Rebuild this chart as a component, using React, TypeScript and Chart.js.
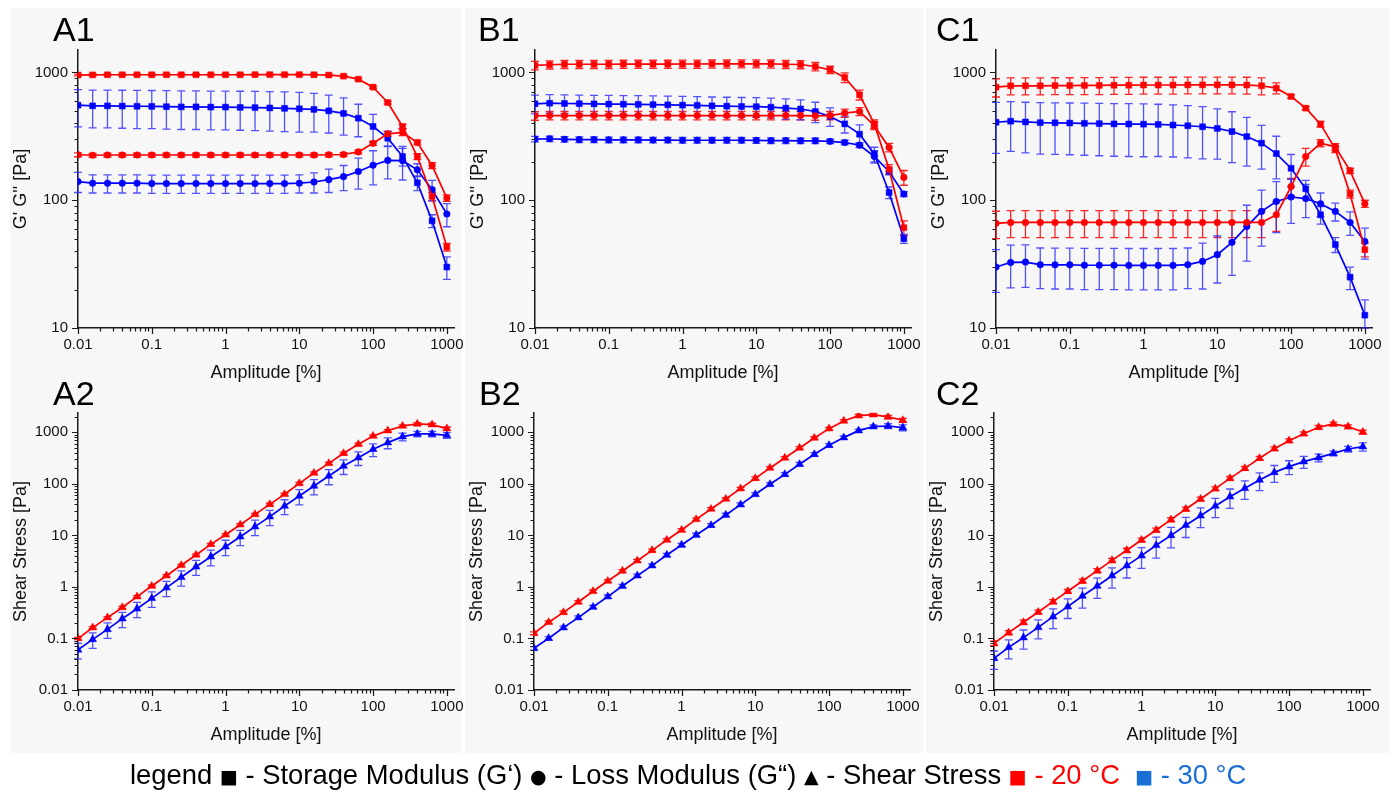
import React, { useEffect, useRef } from "react";
import { Chart, registerables } from "chart.js";

Chart.register(...registerables);

// ---------------- DATA ----------------
const AMPLITUDE = [0.01, 0.0158, 0.0251, 0.0398, 0.0631, 0.1, 0.158, 0.251, 0.398, 0.631, 1, 1.58, 2.51, 3.98, 6.31, 10, 15.8, 25.1, 39.8, 63.1, 100, 158, 251, 398, 631, 1000];
const X_TICK_LABELS = ["0.01", "0.1", "1", "10", "100", "1000"];
const MODULUS_TICK_LABELS = ["10", "100", "1000"];
const STRESS_TICK_LABELS = ["0.01", "0.1", "1", "10", "100", "1000"];

// A1
const A1_G1_20 = [955, 958, 960, 960, 960, 960, 960, 960, 960, 960, 960, 960, 962, 962, 962, 962, 960, 955, 936, 887, 768, 582, 378, 220, 107, 43];
const A1_G1_20_ERR = [15, 15, 15, 15, 15, 15, 15, 15, 15, 15, 15, 15, 15, 15, 15, 15, 15, 15, 15, 15, 15, 15, 15, 12, 8, 3];
const A1_G2_20 = [227, 225, 226, 226, 226, 226, 226, 226, 226, 226, 226, 226, 226, 226, 226, 226, 226, 227, 228, 239, 279, 331, 340, 283, 187, 104];
const A1_G2_20_ERR = [8, 8, 8, 8, 8, 8, 8, 8, 8, 8, 8, 8, 8, 8, 8, 8, 8, 8, 8, 8, 10, 15, 20, 12, 10, 6];
const A1_G1_30 = [555, 548, 548, 546, 544, 543, 540, 538, 538, 536, 536, 533, 531, 528, 524, 520, 514, 501, 478, 439, 378, 306, 220, 137, 69, 30];
const A1_G1_30_ERR = [180, 180, 180, 180, 180, 180, 180, 180, 180, 180, 180, 180, 180, 180, 180, 178, 172, 165, 155, 125, 92, 40, 35, 18, 8, 6];
const A1_G2_30 = [140, 136, 136, 136, 136, 135, 135, 135, 135, 135, 135, 135, 135, 135, 135, 136, 139, 145, 153, 168, 188, 205, 204, 173, 121, 78];
const A1_G2_30_ERR = [25, 22, 22, 22, 22, 22, 22, 22, 22, 22, 22, 22, 22, 22, 22, 22, 25, 30, 34, 46, 56, 58, 60, 20, 22, 16];

// B1
const B1_G1_20 = [1135, 1150, 1160, 1160, 1160, 1160, 1162, 1162, 1162, 1162, 1165, 1165, 1168, 1168, 1170, 1170, 1168, 1160, 1155, 1114, 1049, 914, 669, 396, 175, 61];
const B1_G1_20_ERR = [85, 85, 85, 85, 85, 85, 85, 85, 85, 85, 85, 85, 85, 85, 85, 85, 85, 85, 85, 85, 70, 80, 60, 30, 15, 8];
const B1_G2_20 = [458, 460, 460, 460, 460, 460, 460, 460, 460, 460, 460, 460, 460, 460, 460, 460, 460, 460, 460, 458, 460, 481, 495, 383, 259, 151];
const B1_G2_20_ERR = [35, 35, 35, 35, 35, 35, 35, 35, 35, 35, 35, 35, 35, 35, 35, 35, 35, 35, 35, 35, 35, 35, 35, 25, 20, 20];
const B1_G1_30 = [569, 575, 572, 570, 568, 566, 565, 563, 560, 558, 555, 553, 548, 545, 542, 540, 535, 526, 518, 495, 453, 396, 329, 230, 115, 50];
const B1_G1_30_ERR = [95, 95, 95, 95, 95, 95, 95, 95, 95, 95, 95, 95, 95, 95, 95, 95, 95, 95, 92, 90, 75, 60, 60, 30, 12, 4];
const B1_G2_30 = [301, 303, 300, 298, 298, 297, 297, 297, 296, 296, 295, 295, 295, 295, 295, 294, 293, 293, 292, 292, 289, 283, 270, 220, 168, 112];
const B1_G2_30_ERR = [15, 15, 15, 15, 15, 15, 15, 15, 15, 15, 15, 15, 15, 15, 15, 15, 15, 15, 15, 15, 12, 12, 12, 25, 10, 5];

// C1
const C1_G1_20 = [768, 787, 787, 787, 790, 790, 792, 792, 795, 795, 798, 798, 798, 800, 800, 801, 800, 798, 787, 754, 649, 526, 394, 251, 112, 41];
const C1_G1_20_ERR = [125, 120, 120, 120, 120, 120, 120, 120, 120, 120, 120, 120, 120, 120, 120, 120, 120, 120, 120, 75, 20, 15, 20, 15, 8, 5];
const C1_G2_20 = [66, 67, 67, 67, 67, 67, 67, 67, 67, 67, 67, 67, 67, 67, 67, 67, 67, 67, 67, 77, 128, 220, 280, 262, 170, 94];
const C1_G2_20_ERR = [16, 16, 16, 16, 16, 16, 16, 16, 16, 16, 16, 16, 16, 16, 16, 16, 16, 16, 16, 20, 20, 35, 18, 15, 8, 6];
const C1_G1_30 = [408, 416, 410, 405, 404, 402, 400, 398, 396, 395, 394, 392, 388, 383, 376, 365, 345, 315, 280, 232, 178, 123, 77, 45, 25, 12.6];
const C1_G1_30_ERR = [175, 175, 175, 175, 175, 175, 175, 175, 175, 175, 175, 172, 170, 168, 165, 155, 148, 130, 105, 85, 50, 20, 12, 6, 5, 4];
const C1_G2_30 = [30, 32.6, 32.8, 31.3, 31.2, 31.2, 31, 31, 31, 30.9, 30.9, 30.9, 30.9, 31.3, 33.2, 37.5, 46.8, 62.4, 81.8, 97.8, 106, 103, 94, 81.8, 67, 47.6];
const C1_G2_30_ERR = [11, 12, 12, 11, 11, 11, 11, 11, 11, 11, 11, 11, 11, 11, 13, 15, 21, 29, 38, 42, 40, 30, 20, 13, 14, 13];

// A2
const A2_S_20 = [0.1, 0.162, 0.254, 0.4, 0.647, 1.04, 1.65, 2.63, 4.17, 6.7, 10.3, 16.1, 25.6, 40, 62.7, 102, 162, 250, 391, 585, 849, 1077, 1327, 1452, 1409, 1178];
const A2_S_20_ERR = [0.005, 0.008, 0.012, 0.02, 0.03, 0.05, 0.08, 0.12, 0.2, 0.3, 0.5, 0.8, 1.2, 2, 3, 5, 8, 12, 20, 30, 40, 55, 70, 80, 90, 90];
const A2_S_30 = [0.06, 0.096, 0.15, 0.242, 0.378, 0.601, 0.967, 1.54, 2.47, 3.86, 6.04, 9.44, 14.8, 23.1, 37.2, 58.2, 91, 142, 222, 322, 468, 630, 824, 929, 929, 875];
const A2_S_30_ERR = [0.02, 0.032, 0.05, 0.08, 0.125, 0.2, 0.32, 0.5, 0.8, 1.3, 2.0, 3.1, 4.9, 7.6, 12, 19, 30, 46, 70, 95, 130, 150, 140, 110, 110, 110];

// B2
const B2_S_20 = [0.126, 0.206, 0.321, 0.51, 0.822, 1.3, 2.04, 3.23, 5.13, 8.14, 12.7, 20.5, 32.5, 50.8, 80.7, 128, 203, 318, 497, 776, 1178, 1660, 2105, 2200, 1986, 1711];
const B2_S_20_ERR = [0.008, 0.012, 0.02, 0.03, 0.05, 0.08, 0.12, 0.2, 0.3, 0.5, 0.8, 1.2, 2, 3, 5, 8, 12, 20, 30, 45, 70, 100, 130, 140, 150, 150];
const B2_S_30 = [0.0644, 0.101, 0.162, 0.254, 0.408, 0.647, 1.04, 1.65, 2.59, 4.17, 6.52, 10.2, 15.7, 24.9, 39.5, 62.7, 98, 153, 240, 374, 560, 789, 1077, 1288, 1327, 1233];
const B2_S_30_ERR = [0.005, 0.008, 0.012, 0.02, 0.03, 0.05, 0.08, 0.12, 0.2, 0.3, 0.5, 0.8, 1.2, 2, 3, 5, 8, 12, 20, 30, 45, 60, 80, 100, 140, 160];

// C2
const C2_S_20 = [0.0805, 0.13, 0.206, 0.326, 0.518, 0.822, 1.3, 2.07, 3.28, 5.13, 8.14, 12.7, 20.2, 32.5, 50.8, 80.7, 128, 200, 313, 482, 689, 942, 1250, 1452, 1288, 1015];
const C2_S_20_ERR = [0.008, 0.012, 0.02, 0.03, 0.05, 0.07, 0.12, 0.2, 0.3, 0.5, 0.7, 1.1, 1.8, 3, 4.5, 7, 11, 17, 27, 40, 60, 80, 110, 120, 110, 90];
const C2_S_30 = [0.0411, 0.0673, 0.104, 0.164, 0.265, 0.414, 0.667, 1.04, 1.65, 2.59, 4.05, 6.42, 10.0, 15.7, 24.1, 37.2, 56.4, 81.9, 119, 167, 216, 270, 322, 391, 475, 527];
const C2_S_30_ERR = [0.016, 0.027, 0.042, 0.066, 0.11, 0.17, 0.28, 0.44, 0.7, 1.1, 1.75, 2.8, 4.3, 6.6, 10, 15, 23, 32, 45, 60, 65, 70, 55, 40, 60, 95];

// ---------------- STYLE / LAYOUT ----------------
const FONT = '"Liberation Sans", Arial, Helvetica, sans-serif';
const RED = "rgb(255,0,0)";
const BLUE = "rgb(0,0,255)";
const RED_ERR = "rgba(255,0,0,0.85)";
const BLUE_ERR = "rgba(40,40,255,0.8)";
const AXIS_COLOR = "#1a1a1a";
const PANEL_BG = "#f7f7f7";

const X_MIN = 0.01;
const X_MAX = 1250;
const Y_AXIS_W = 78;
const PLOT_W = 376;
const PAD_R = 25;

type SeriesDef = { color: string; errColor: string; shape: string; values: number[]; errors: number[] };

const MODULUS_SERIES = (g1_20: number[], e1_20: number[], g2_20: number[], e2_20: number[], g1_30: number[], e1_30: number[], g2_30: number[], e2_30: number[]): SeriesDef[] => [
  { color: RED, errColor: RED_ERR, shape: "rect", values: g1_20, errors: e1_20 },
  { color: RED, errColor: RED_ERR, shape: "circle", values: g2_20, errors: e2_20 },
  { color: BLUE, errColor: BLUE_ERR, shape: "rect", values: g1_30, errors: e1_30 },
  { color: BLUE, errColor: BLUE_ERR, shape: "circle", values: g2_30, errors: e2_30 },
];
const STRESS_SERIES = (s20: number[], e20: number[], s30: number[], e30: number[]): SeriesDef[] => [
  { color: RED, errColor: RED_ERR, shape: "triangle", values: s20, errors: e20 },
  { color: BLUE, errColor: BLUE_ERR, shape: "triangle", values: s30, errors: e30 },
];

type PanelDef = {
  name: string;
  plotLeft: number;
  row: 1 | 2;
  labelLeft: number;
  series: SeriesDef[];
};

const ROWS = {
  1: { canvasTop: 28, canvasH: 362, padTop: 22, xAxisH: 62, tickPad: 8, titlePadBottom: 6.2, yMin: 10, yMax: 1500, yTitle: "G' G'' [Pa]", yLabels: MODULUS_TICK_LABELS, labelTop: 12.2 },
  2: { canvasTop: 388, canvasH: 372, padTop: 25, xAxisH: 70, tickPad: 8, titlePadBottom: 14.2, yMin: 0.01, yMax: 2370, yTitle: "Shear Stress [Pa]", yLabels: STRESS_TICK_LABELS, labelTop: 376.2 },
};

const PANELS: PanelDef[] = [
  { name: "A1", plotLeft: 78, row: 1, labelLeft: 53, series: MODULUS_SERIES(A1_G1_20, A1_G1_20_ERR, A1_G2_20, A1_G2_20_ERR, A1_G1_30, A1_G1_30_ERR, A1_G2_30, A1_G2_30_ERR) },
  { name: "B1", plotLeft: 535, row: 1, labelLeft: 478, series: MODULUS_SERIES(B1_G1_20, B1_G1_20_ERR, B1_G2_20, B1_G2_20_ERR, B1_G1_30, B1_G1_30_ERR, B1_G2_30, B1_G2_30_ERR) },
  { name: "C1", plotLeft: 996, row: 1, labelLeft: 936, series: MODULUS_SERIES(C1_G1_20, C1_G1_20_ERR, C1_G2_20, C1_G2_20_ERR, C1_G1_30, C1_G1_30_ERR, C1_G2_30, C1_G2_30_ERR) },
  { name: "A2", plotLeft: 78, row: 2, labelLeft: 53, series: STRESS_SERIES(A2_S_20, A2_S_20_ERR, A2_S_30, A2_S_30_ERR) },
  { name: "B2", plotLeft: 534, row: 2, labelLeft: 479, series: STRESS_SERIES(B2_S_20, B2_S_20_ERR, B2_S_30, B2_S_30_ERR) },
  { name: "C2", plotLeft: 994, row: 2, labelLeft: 936, series: STRESS_SERIES(C2_S_20, C2_S_20_ERR, C2_S_30, C2_S_30_ERR) },
];

// ---------------- HELPERS ----------------
function fmtDecade(v: number): string {
  const l = Math.round(Math.log10(v));
  return l < 0 ? v.toFixed(-l) : String(Math.round(v));
}
function decadeLabel(v: number, labels: string[]): string {
  const l = Math.log10(v);
  if (Math.abs(l - Math.round(l)) > 1e-6) return "";
  const s = fmtDecade(v);
  return labels.includes(s) ? s : "";
}

const errorBarPlugin = {
  id: "errorBars",
  beforeDatasetsDraw(chart: any) {
    const ctx = chart.ctx;
    const ys = chart.scales.y;
    chart.data.datasets.forEach((ds: any, i: number) => {
      const errs: number[] = ds.errorBars;
      if (!errs) return;
      const meta = chart.getDatasetMeta(i);
      ctx.save();
      ctx.strokeStyle = ds.errColor;
      ctx.lineWidth = 1.3;
      meta.data.forEach((el: any, j: number) => {
        const v = ds.data[j].y;
        const e = errs[j];
        if (!e) return;
        const top = ys.getPixelForValue(v + e);
        const bot = ys.getPixelForValue(Math.max(v - e, ys.min));
        const x = el.x;
        ctx.beginPath();
        ctx.moveTo(x, top);
        ctx.lineTo(x, bot);
        ctx.moveTo(x - 4, top);
        ctx.lineTo(x + 4, top);
        ctx.moveTo(x - 4, bot);
        ctx.lineTo(x + 4, bot);
        ctx.stroke();
      });
      ctx.restore();
    });
  },
};

function tickKind(v: number): number {
  const e = Math.floor(Math.log10(v) + 1e-9);
  const m = v / Math.pow(10, e);
  if (Math.abs(m - Math.round(m)) > 1e-6) return 0;
  return Math.abs(m - 1) < 1e-6 || Math.abs(m - 10) < 1e-6 ? 2 : 1;
}

const logTickPlugin = {
  id: "logTicks",
  afterDraw(chart: any) {
    const ctx = chart.ctx;
    const xs = chart.scales.x;
    const ys = chart.scales.y;
    ctx.save();
    ctx.strokeStyle = AXIS_COLOR;
    ctx.lineWidth = 1.2;
    ctx.beginPath();
    for (const t of xs.ticks) {
      const k = tickKind(t.value);
      if (!k) continue;
      const len = k === 2 ? 6 : 3.5;
      const px = Math.round(xs.getPixelForValue(t.value)) + 0.5;
      ctx.moveTo(px, xs.top);
      ctx.lineTo(px, xs.top + len);
    }
    for (const t of ys.ticks) {
      const k = tickKind(t.value);
      if (!k) continue;
      const len = k === 2 ? 6 : 3.5;
      const py = Math.round(ys.getPixelForValue(t.value)) + 0.5;
      ctx.moveTo(ys.right, py);
      ctx.lineTo(ys.right - len, py);
    }
    ctx.stroke();
    ctx.restore();
  },
};

// ---------------- COMPONENTS ----------------
function Panel({ def }: { def: PanelDef }) {
  const ref = useRef<HTMLCanvasElement | null>(null);
  const row = ROWS[def.row];
  const canvasLeft = def.plotLeft - Y_AXIS_W;
  const canvasW = Y_AXIS_W + PLOT_W + PAD_R;

  useEffect(() => {
    if (!ref.current) return;
    const pointRadius = (shape: string) => (shape === "rect" ? 4.2 : shape === "circle" ? 3.3 : 4.6);
    const chart = new Chart(ref.current, {
      type: "line",
      data: {
        datasets: def.series.map((s) => ({
          data: AMPLITUDE.map((x, i) => ({ x, y: s.values[i] })),
          errorBars: s.errors,
          errColor: s.errColor,
          borderColor: s.color,
          backgroundColor: s.color,
          borderWidth: 1.7,
          pointStyle: s.shape,
          pointRadius: pointRadius(s.shape),
          pointBorderWidth: 0.5,
          pointBorderColor: s.color,
          pointBackgroundColor: s.color,
          tension: 0,
          fill: false,
        })) as any,
      },
      options: {
        responsive: false,
        animation: false,
        devicePixelRatio: 1,
        events: [],
        layout: { padding: { left: 0, right: PAD_R, top: row.padTop, bottom: 0 } },
        plugins: { legend: { display: false }, tooltip: { enabled: false }, title: { display: false } },
        scales: {
          x: {
            type: "logarithmic",
            min: X_MIN,
            max: X_MAX,
            grid: { display: false, drawTicks: false },
            border: { display: true, color: AXIS_COLOR, width: 1.5 },
            ticks: {
              autoSkip: false,
              maxRotation: 0,
              minRotation: 0,
              padding: row.tickPad,
              color: "#111",
              font: { family: FONT, size: 15 },
              callback: (v: any) => decadeLabel(Number(v), X_TICK_LABELS),
            },
            title: {
              display: true,
              text: "Amplitude [%]",
              color: "#111",
              font: { family: FONT, size: 18 },
              padding: { top: 0, bottom: row.titlePadBottom },
            },
            afterFit: (s: any) => {
              s.height = row.xAxisH;
            },
          },
          y: {
            type: "logarithmic",
            min: row.yMin,
            max: row.yMax,
            grid: { display: false, drawTicks: false },
            border: { display: true, color: AXIS_COLOR, width: 1.5 },
            ticks: {
              autoSkip: false,
              padding: 10,
              color: "#111",
              font: { family: FONT, size: 15 },
              callback: (v: any) => decadeLabel(Number(v), row.yLabels),
            },
            title: {
              display: true,
              text: row.yTitle,
              color: "#111",
              font: { family: FONT, size: 18 },
              padding: { top: 10.5, bottom: 0 },
            },
            afterFit: (s: any) => {
              s.width = Y_AXIS_W;
            },
          },
        },
      } as any,
      plugins: [errorBarPlugin, logTickPlugin],
    });
    return () => chart.destroy();
  }, []);

  return (
    <>
      <canvas
        ref={ref}
        width={canvasW}
        height={row.canvasH}
        style={{ position: "absolute", left: canvasLeft, top: row.canvasTop, width: canvasW, height: row.canvasH }}
      />
      <div
        style={{
          position: "absolute",
          left: def.labelLeft,
          top: row.labelTop,
          fontFamily: FONT,
          fontSize: 34,
          lineHeight: "34px",
          color: "#000",
          whiteSpace: "nowrap",
        }}
      >
        {def.name}
      </div>
    </>
  );
}

const LEGEND_RED = "#ff0000";
const LEGEND_BLUE = "#1a6fd4";

export default function App() {
  const sym = { fontFamily: '"DejaVu Sans", sans-serif', fontSize: 19, verticalAlign: "1px" } as React.CSSProperties;
  return (
    <div
      style={{
        position: "absolute",
        left: 0,
        top: 0,
        width: 1396,
        height: 792,
        background: "#ffffff",
        overflow: "hidden",
      }}
    >
      <div style={{ position: "absolute", left: 10, top: 8, width: 452, height: 745, background: PANEL_BG }} />
      <div style={{ position: "absolute", left: 465, top: 8, width: 458, height: 745, background: PANEL_BG }} />
      <div style={{ position: "absolute", left: 926, top: 8, width: 464, height: 745, background: PANEL_BG }} />
      {PANELS.map((p) => (
        <Panel key={p.name} def={p} />
      ))}
      <div
        style={{
          position: "absolute",
          left: 130,
          top: 758,
          fontFamily: FONT,
          fontSize: 27.4,
          lineHeight: "34px",
          color: "#000",
          whiteSpace: "pre",
        }}
      >
        {"legend "}
        <span style={sym}>■</span>
        {" - Storage Modulus (G‘) "}
        <span style={sym}>●</span>
        {" - Loss Modulus (G“) "}
        <span style={sym}>▲</span>
        {" - Shear Stress "}
        <span style={{ ...sym, color: LEGEND_RED }}>■</span>
        <span style={{ color: LEGEND_RED }}>{" - 20 °C"}</span>
        {"  "}
        <span style={{ ...sym, color: LEGEND_BLUE }}>■</span>
        <span style={{ color: LEGEND_BLUE }}>{" - 30 °C"}</span>
      </div>
    </div>
  );
}
